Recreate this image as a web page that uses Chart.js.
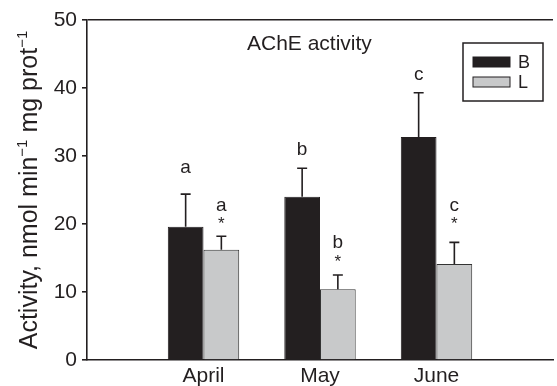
<!DOCTYPE html>
<html>
<head>
<meta charset="utf-8">
<script src="https://cdn.jsdelivr.net/npm/chart.js@4.4.1/dist/chart.umd.min.js"></script>
<style>
  html, body { margin: 0; padding: 0; background: #fff; }
  #wrap { width: 557px; height: 386px; }
</style>
</head>
<body>
<div id="wrap"><canvas id="acheChart" width="557" height="386"></canvas></div>
<script>
// Dados
const months = ['April', 'May', 'June'];
const valuesB = [19.6, 24.0, 32.8];
const valuesL = [16.2, 10.4, 14.1];
const errorsB = [4.8, 4.2, 6.5];
const errorsL = [2.0, 2.1, 3.2];

// letras de significância e alturas (unidades do eixo y, linha de base)
const lettersB = ['a', 'b', 'c'];
const lettersBY = [27.5, 30.1, 41.2];
const lettersL = ['a', 'b', 'c'];
const lettersLY = [21.9, 16.4, 21.9];
const starsLY = [20.7, 15.1, 20.7];

const yTicks = [0, 10, 20, 30, 40, 50];

const ink = '#231f20';
const greyBar = '#c8c9ca';
const font = 'Liberation Sans, Arial, Helvetica, sans-serif';

// categorias vazias nas pontas para posicionar as barras como no original
const labels = [''].concat(months, ['']);
const pad = (arr) => [null].concat(arr, [null]);

const errorBars = {
    id: 'errorBars',
    afterDatasetsDraw(chart) {
        const ctx = chart.ctx;
        const y = chart.scales.y;
        const errs = [errorsB, errorsL];
        ctx.save();
        ctx.strokeStyle = ink;
        ctx.lineWidth = 1.6;
        chart.data.datasets.forEach((ds, di) => {
            const meta = chart.getDatasetMeta(di);
            meta.data.forEach((bar, i) => {
                if (ds.data[i] == null) return;
                const top = y.getPixelForValue(ds.data[i] + errs[di][i - 1]);
                ctx.beginPath();
                ctx.moveTo(bar.x, bar.y);
                ctx.lineTo(bar.x, top);
                ctx.moveTo(bar.x - 5, top);
                ctx.lineTo(bar.x + 5, top);
                ctx.stroke();
            });
        });
        ctx.restore();
    }
};

const annotations = {
    id: 'annotations',
    afterDatasetsDraw(chart) {
        const ctx = chart.ctx;
        const y = chart.scales.y;
        const metaB = chart.getDatasetMeta(0);
        const metaL = chart.getDatasetMeta(1);
        ctx.save();
        ctx.fillStyle = ink;
        ctx.textAlign = 'center';
        ctx.textBaseline = 'alphabetic';
        months.forEach((m, i) => {
            const bB = metaB.data[i + 1];
            const bL = metaL.data[i + 1];
            ctx.font = '19px ' + font;
            ctx.fillText(lettersB[i], bB.x, y.getPixelForValue(lettersBY[i]));
            ctx.fillText(lettersL[i], bL.x, y.getPixelForValue(lettersLY[i]));
            ctx.font = '17px ' + font;
            ctx.fillText('*', bL.x, y.getPixelForValue(starsLY[i]) + 10);
        });

        // título interno
        const area = chart.chartArea;
        ctx.textAlign = 'left';
        ctx.font = '21px ' + font;
        ctx.fillText('AChE activity', area.left + 160, area.top + 30);

        // legenda
        const lx = 463, ly = 43;
        ctx.lineWidth = 1.5;
        ctx.strokeStyle = ink;
        ctx.strokeRect(lx, ly, 80, 58);
        ctx.font = '18px ' + font;
        ctx.textBaseline = 'middle';
        chart.data.datasets.forEach((ds, di) => {
            const sy = ly + 14 + di * 20;
            ctx.fillStyle = ds.backgroundColor;
            ctx.fillRect(lx + 10, sy, 37, 10);
            ctx.lineWidth = 1;
            ctx.strokeRect(lx + 10, sy, 37, 10);
            ctx.fillStyle = ink;
            ctx.fillText(ds.label, lx + 55, sy + 6);
        });

        // título do eixo y com sobrescritos
        const parts = [
            ['Activity, nmol min', false],
            ['\u22121', true],
            [' mg prot', false],
            ['\u22121', true]
        ];
        const big = '25px ' + font;
        const small = '15px ' + font;
        let total = 0;
        parts.forEach(([t, sup]) => {
            ctx.font = sup ? small : big;
            total += ctx.measureText(t).width;
        });
        ctx.translate(29, (area.top + area.bottom) / 2);
        ctx.rotate(-Math.PI / 2);
        ctx.textAlign = 'left';
        ctx.textBaseline = 'alphabetic';
        let x = -total / 2;
        parts.forEach(([t, sup]) => {
            ctx.font = sup ? small : big;
            ctx.fillText(t, x, sup ? -2 : 8);
            x += ctx.measureText(t).width;
        });
        ctx.restore();
    }
};

new Chart(document.getElementById('acheChart'), {
    type: 'bar',
    data: {
        labels: labels,
        datasets: [
            {
                label: 'B',
                data: pad(valuesB),
                backgroundColor: ink,
                borderColor: ink,
                borderWidth: 1
            },
            {
                label: 'L',
                data: pad(valuesL),
                backgroundColor: greyBar,
                borderColor: '#333',
                borderWidth: 1
            }
        ]
    },
    options: {
        responsive: false,
        devicePixelRatio: 1,
        animation: false,
        categoryPercentage: 0.613,
        barPercentage: 1,
        layout: { padding: { top: 20, right: 0, left: 0, bottom: 0 } },
        plugins: {
            legend: { display: false },
            tooltip: { enabled: false }
        },
        scales: {
            x: {
                offset: false,
                grid: { display: false, drawTicks: false },
                border: { color: ink, width: 1.6 },
                ticks: {
                    color: ink,
                    padding: 4,
                    maxRotation: 0,
                    autoSkip: false,
                    font: { size: 21, family: font }
                },
                afterFit(scale) { scale.height = 26; }
            },
            y: {
                min: 0,
                max: 50,
                afterBuildTicks(scale) {
                    scale.ticks = yTicks.map(v => ({ value: v }));
                },
                grid: {
                    color: (c) => c.tick && c.tick.value === 50 ? ink : 'transparent',
                    lineWidth: 1.6,
                    tickColor: ink,
                    tickLength: 5
                },
                border: { color: ink, width: 1.6 },
                ticks: {
                    color: ink,
                    padding: 5,
                    font: { size: 21, family: font }
                },
                afterFit(scale) { scale.width = 87; }
            }
        }
    },
    plugins: [errorBars, annotations]
});
</script>
</body>
</html>
